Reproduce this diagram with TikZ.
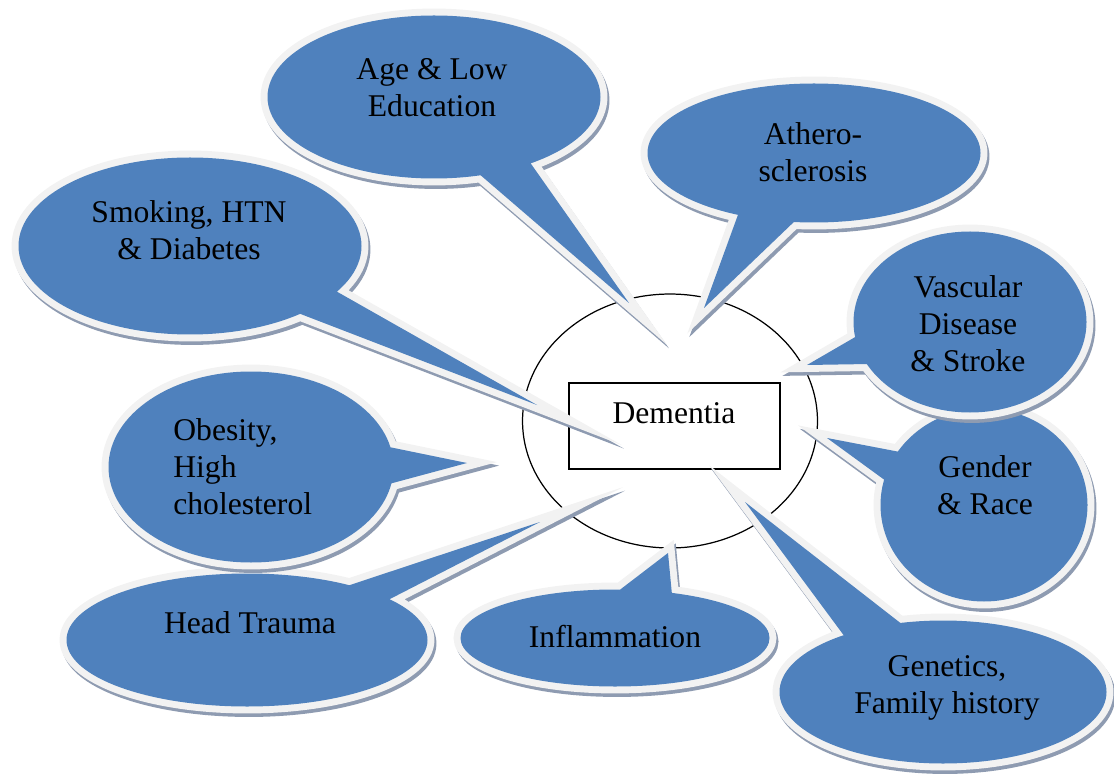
\documentclass[tikz,border=0pt]{standalone}
\usepackage{fontspec}
\setmainfont{Liberation Serif}
\usepackage{xcolor}
\usepackage{tikz}
\usetikzlibrary{shapes.geometric}
\definecolor{bubbleblue}{HTML}{4F81BD}
\definecolor{bubbleedge}{HTML}{F2F2F2}
\definecolor{bubbleshadow}{HTML}{8E9BB1}

\begin{document}
\begin{tikzpicture}[x=0.02cm,y=-0.02cm,
	bubble/.style={fill=bubbleblue,line join=miter,miter limit=40,
		preaction={draw=bubbleshadow,fill=bubbleshadow,line width=7.9pt,line join=miter,miter limit=40,transform canvas={shift={(2,3.5)}}},
		preaction={draw=bubbleedge,line width=7.9pt,line join=miter,miter limit=40}},
	words/.style={font=\fontsize{18}{21}\selectfont,align=center,inner sep=0pt}]
	
	\useasboundingbox (0,0) rectangle (1114,776);
	
	% centre
	\node [draw,ellipse,line width=.7pt,minimum width=5.9cm,minimum height=5.08cm] (ring) at (670,421) {};
	
	\node [draw,line width=.9pt,minimum width=4.22cm,minimum height=1.72cm] (box) at (674.5,426) {};
	
	% tips of the callouts
	\coordinate (headtip) at (540,522);
	\coordinate (obesetip) at (467,463);
	\coordinate (smoketip) at (537,405);
	\coordinate (agetip) at (629,303);
	\coordinate (atherotip) at (704,308);
	\coordinate (gendertip) at (827,438);
	\coordinate (vasctip) at (807,365);
	\coordinate (genetip) at (745,502);
	\coordinate (inflamtip) at (668,553);
	
	% callouts
	\path [bubble] (247,640) ellipse [x radius=180.5,y radius=66.5] (347,586) -- (headtip) -- (388,600) -- cycle;
	
	\path [bubble] (251,467) ellipse [x radius=142.5,y radius=95.5] (389,447) -- (obesetip) -- (389,484) -- cycle;
	
	\path [bubble] (190,246) ellipse [x radius=171.5,y radius=88.5] (334,290) -- (smoketip) -- (298,313) -- cycle;
	
	\path [bubble] (434,97) ellipse [x radius=166.5,y radius=81.5] (529,161) -- (agetip) -- (478,173) -- cycle;
	
	\path [bubble] (814,153) ellipse [x radius=166.5,y radius=69.5] (797,219) -- (atherotip) -- (739,212) -- cycle;
	
	\path [bubble] (984,505) ellipse [x radius=103.5,y radius=96.5] (886,481) -- (gendertip) -- (900,452) -- cycle;
	
	\path [bubble] (970,322) ellipse [x radius=116.5,y radius=90.5] (869,364) -- (vasctip) -- (857,336) -- cycle;
	
	\path [bubble] (943,692) ellipse [x radius=163.5,y radius=71.5] (845,637) -- (genetip) -- (903,625) -- cycle;
	
	\path [bubble] (615,638) ellipse [x radius=154.5,y radius=48.5] (617,592) -- (inflamtip) -- (672,595) -- cycle;
	
	% texts
	\node [words] (dementia) at (674,413) {Dementia};
	
	\node [words] (age) at (432,88) {Age \& Low\\Education};
	
	\node [words] (athero) at (813,152) {Athero-\\sclerosis};
	
	\node [words] (smoke) at (189,230) {Smoking, HTN\\\& Diabetes};
	
	\node [words] (vasc) at (968,324) {Vascular\\Disease\\\& Stroke};
	
	\node [words] (gender) at (985,485) {Gender\\\& Race};
	
	\node [words,align=left,anchor=west] (obese) at (173,467) {Obesity,\\High\\cholesterol};
	
	\node [words] (head) at (250,623) {Head Trauma};
	
	\node [words] (inflam) at (615,637) {Inflammation};
	
	\node [words] (gene) at (947,688) {Genetics,\\Family history};
	
\end{tikzpicture}
\end{document}
